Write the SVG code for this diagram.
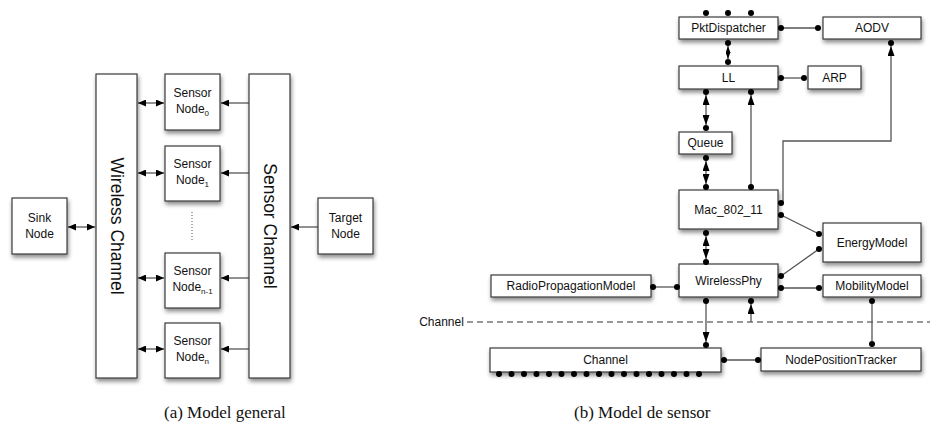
<svg xmlns="http://www.w3.org/2000/svg" width="930" height="438" viewBox="0 0 930 438">
<style>
.box{fill:#fff;stroke:#3a3a3a;stroke-width:1.2;filter:url(#sh)}
.t{font-family:"Liberation Sans",Arial,sans-serif;font-size:12px;fill:#111;text-anchor:middle}
.vt{font-family:"Liberation Sans",Arial,sans-serif;font-size:17.5px;fill:#111;text-anchor:middle}
.cap{font-family:"Liberation Serif","Times New Roman",serif;font-size:17px;fill:#111}
.ln{fill:none;stroke:#555;stroke-width:1.3}
.dot{fill:#000}
</style>
<defs>
<filter id="sh" x="-20%" y="-20%" width="140%" height="160%">
<feDropShadow dx="1" dy="3" stdDeviation="2" flood-color="#000" flood-opacity="0.45"/>
</filter>
<marker id="as" viewBox="0 0 8 7" refX="8" refY="3.5" markerWidth="8" markerHeight="7" markerUnits="userSpaceOnUse" orient="auto-start-reverse">
<path d="M0,0 L8,3.5 L0,7 z" fill="#000"/>
</marker>
<marker id="ab" viewBox="0 0 10 7" refX="10" refY="3.5" markerWidth="10" markerHeight="7" markerUnits="userSpaceOnUse" orient="auto-start-reverse">
<path d="M0,0 L10,3.5 L0,7 z" fill="#000"/>
</marker>
<marker id="am" viewBox="0 0 7 5" refX="7" refY="2.5" markerWidth="7" markerHeight="5" markerUnits="userSpaceOnUse" orient="auto-start-reverse">
<path d="M0,0 L7,2.5 L0,5 z" fill="#000"/>
</marker>
</defs>

<!-- ===== (a) Model general ===== -->
<g id="connectors-a">
<path class="ln" d="M68,227 H95" marker-start="url(#as)" marker-end="url(#as)"/>
<path class="ln" d="M138,103 H164" marker-start="url(#as)" marker-end="url(#as)"/>
<path class="ln" d="M138,173 H164" marker-start="url(#as)" marker-end="url(#as)"/>
<path class="ln" d="M138,278 H164" marker-start="url(#as)" marker-end="url(#as)"/>
<path class="ln" d="M138,349 H164" marker-start="url(#as)" marker-end="url(#as)"/>
<path class="ln" d="M249,103 H221" marker-end="url(#as)"/>
<path class="ln" d="M249,173 H221" marker-end="url(#as)"/>
<path class="ln" d="M249,278 H221" marker-end="url(#as)"/>
<path class="ln" d="M249,349 H221" marker-end="url(#as)"/>
<path class="ln" d="M318,227 H291" marker-end="url(#as)"/>
<path d="M192,212 V240" stroke="#555" stroke-width="1" stroke-dasharray="1,2"/>
</g>
<g id="sink-node">
<rect class="box" x="12" y="198" width="55" height="56"/>
<text class="t" x="39.5" y="222">Sink</text>
<text class="t" x="39.5" y="238">Node</text>
</g>
<g id="wireless-channel">
<rect class="box" x="96" y="74" width="41" height="304"/>
<text class="vt" transform="translate(110.5,226) rotate(90)">Wireless Channel</text>
</g>
<g id="sensor-node-0">
<rect class="box" x="165" y="74" width="55" height="56"/>
<text class="t" x="192.5" y="97">Sensor</text>
<text class="t" x="192.5" y="113">Node<tspan font-size="8" dy="3">0</tspan></text>
</g>
<g id="sensor-node-1">
<rect class="box" x="165" y="146" width="55" height="55"/>
<text class="t" x="192.5" y="168">Sensor</text>
<text class="t" x="192.5" y="184">Node<tspan font-size="8" dy="3">1</tspan></text>
</g>
<g id="sensor-node-n-1">
<rect class="box" x="165" y="253" width="55" height="55"/>
<text class="t" x="192.5" y="275">Sensor</text>
<text class="t" x="192.5" y="291">Node<tspan font-size="8" dy="3">n-1</tspan></text>
</g>
<g id="sensor-node-n">
<rect class="box" x="165" y="323" width="55" height="55"/>
<text class="t" x="192.5" y="345">Sensor</text>
<text class="t" x="192.5" y="361">Node<tspan font-size="8" dy="3">n</tspan></text>
</g>
<g id="sensor-channel">
<rect class="box" x="249" y="74" width="41" height="304"/>
<text class="vt" transform="translate(263.5,226) rotate(90)">Sensor Channel</text>
</g>
<g id="target-node">
<rect class="box" x="318" y="198" width="55" height="56"/>
<text class="t" x="345.5" y="222" font-size="11.5">Target</text>
<text class="t" x="345.5" y="238" font-size="11.5">Node</text>
</g>

<!-- ===== (b) Model de sensor ===== -->
<g id="boundary">
<path d="M467,322 H930" stroke="#333" stroke-width="1.2" stroke-dasharray="6,4" fill="none"/>
<text class="t" x="441.5" y="326">Channel</text>
</g>
<g id="pktdispatcher">
<rect class="box" x="679" y="17" width="99" height="22"/>
<text class="t" x="728.5" y="32">PktDispatcher</text>
</g>
<g id="aodv">
<rect class="box" x="823" y="17" width="98" height="22"/>
<text class="t" x="872" y="32">AODV</text>
</g>
<g id="ll">
<rect class="box" x="679" y="66" width="99" height="23"/>
<text class="t" x="728.5" y="82">LL</text>
</g>
<g id="arp">
<rect class="box" x="808" y="66" width="53" height="23"/>
<text class="t" x="834.5" y="82">ARP</text>
</g>
<g id="queue">
<rect class="box" x="679" y="132" width="53" height="22"/>
<text class="t" x="705.5" y="147">Queue</text>
</g>
<g id="mac">
<rect class="box" x="679" y="190" width="99" height="39"/>
<text class="t" x="728.5" y="214">Mac_802_11</text>
</g>
<g id="energymodel">
<rect class="box" x="823" y="223" width="98" height="39"/>
<text class="t" x="872" y="247">EnergyModel</text>
</g>
<g id="wirelessphy">
<rect class="box" x="679" y="264" width="99" height="33"/>
<text class="t" x="728.5" y="285">WirelessPhy</text>
</g>
<g id="mobilitymodel">
<rect class="box" x="823" y="275" width="98" height="22"/>
<text class="t" x="872" y="290">MobilityModel</text>
</g>
<g id="radiopropagationmodel">
<rect class="box" x="491" y="275" width="160" height="22"/>
<text class="t" x="571" y="290">RadioPropagationModel</text>
</g>
<g id="channel">
<rect class="box" x="490" y="348" width="231" height="24"/>
<text class="t" x="605.5" y="364">Channel</text>
</g>
<g id="nodepositiontracker">
<rect class="box" x="761" y="348" width="160" height="23"/>
<text class="t" x="841" y="364">NodePositionTracker</text>
</g>

<g id="connectors-b">
<path class="ln" d="M781,28 H818"/>
<path class="ln" d="M728,46 V59" marker-start="url(#am)" marker-end="url(#am)"/>
<path class="ln" d="M781,78 H804"/>
<path class="ln" d="M706,95 V125" marker-start="url(#ab)" marker-end="url(#ab)"/>
<path class="ln" d="M706,161 V184" marker-start="url(#ab)" marker-end="url(#ab)"/>
<path class="ln" d="M751,187 V95" marker-end="url(#ab)"/>
<path class="ln" d="M783,203 V141 H891 V46" marker-end="url(#ab)"/>
<path class="ln" d="M781,215 L819,234"/>
<path class="ln" d="M781,276 L819,249"/>
<path class="ln" d="M706,236 V259" marker-start="url(#ab)" marker-end="url(#ab)"/>
<path class="ln" d="M781,288 H819"/>
<path class="ln" d="M653,287 H677"/>
<path class="ln" d="M706,301 V342" marker-end="url(#ab)"/>
<path class="ln" d="M751,322 V304" marker-end="url(#ab)"/>
<path class="ln" d="M872,301 V344"/>
<path class="ln" d="M724,360 H758"/>
</g>

<g id="ports">
<circle class="dot" cx="706" cy="13" r="3"/>
<circle class="dot" cx="728" cy="13" r="3"/>
<circle class="dot" cx="751" cy="13" r="3"/>
<circle class="dot" cx="781" cy="28" r="3"/>
<circle class="dot" cx="818" cy="28" r="3"/>
<circle class="dot" cx="728" cy="43" r="3"/>
<circle class="dot" cx="891" cy="43" r="3"/>
<circle class="dot" cx="728" cy="62" r="3"/>
<circle class="dot" cx="781" cy="78" r="3"/>
<circle class="dot" cx="804" cy="78" r="3"/>
<circle class="dot" cx="706" cy="92" r="3"/>
<circle class="dot" cx="751" cy="92" r="3"/>
<circle class="dot" cx="706" cy="128" r="3"/>
<circle class="dot" cx="706" cy="158" r="3"/>
<circle class="dot" cx="706" cy="187" r="3"/>
<circle class="dot" cx="751" cy="187" r="3"/>
<circle class="dot" cx="781" cy="203" r="3"/>
<circle class="dot" cx="781" cy="215" r="3"/>
<circle class="dot" cx="706" cy="233" r="3"/>
<circle class="dot" cx="819" cy="234" r="3"/>
<circle class="dot" cx="819" cy="249" r="3"/>
<circle class="dot" cx="706" cy="262" r="3"/>
<circle class="dot" cx="781" cy="276" r="3"/>
<circle class="dot" cx="781" cy="288" r="3"/>
<circle class="dot" cx="819" cy="288" r="3"/>
<circle class="dot" cx="653" cy="287" r="3"/>
<circle class="dot" cx="677" cy="287" r="3"/>
<circle class="dot" cx="706" cy="301" r="3"/>
<circle class="dot" cx="751" cy="301" r="3"/>
<circle class="dot" cx="872" cy="301" r="3"/>
<circle class="dot" cx="872" cy="344" r="3"/>
<circle class="dot" cx="706" cy="345" r="3"/>
<circle class="dot" cx="724" cy="360" r="3"/>
<circle class="dot" cx="758" cy="360" r="3"/>
<circle class="dot" cx="499" cy="374" r="3"/>
<circle class="dot" cx="511.5" cy="374" r="3"/>
<circle class="dot" cx="524" cy="374" r="3"/>
<circle class="dot" cx="536.5" cy="374" r="3"/>
<circle class="dot" cx="549" cy="374" r="3"/>
<circle class="dot" cx="561.5" cy="374" r="3"/>
<circle class="dot" cx="574" cy="374" r="3"/>
<circle class="dot" cx="586.5" cy="374" r="3"/>
<circle class="dot" cx="599" cy="374" r="3"/>
<circle class="dot" cx="611.5" cy="374" r="3"/>
<circle class="dot" cx="624" cy="374" r="3"/>
<circle class="dot" cx="636.5" cy="374" r="3"/>
<circle class="dot" cx="649" cy="374" r="3"/>
<circle class="dot" cx="661.5" cy="374" r="3"/>
<circle class="dot" cx="674" cy="374" r="3"/>
<circle class="dot" cx="686.5" cy="374" r="3"/>
<circle class="dot" cx="699" cy="374" r="3"/>
</g>

<g id="captions">
<text class="cap" x="164" y="418">(a) Model general</text>
<text class="cap" x="574" y="418">(b) Model de sensor</text>
</g>
</svg>
